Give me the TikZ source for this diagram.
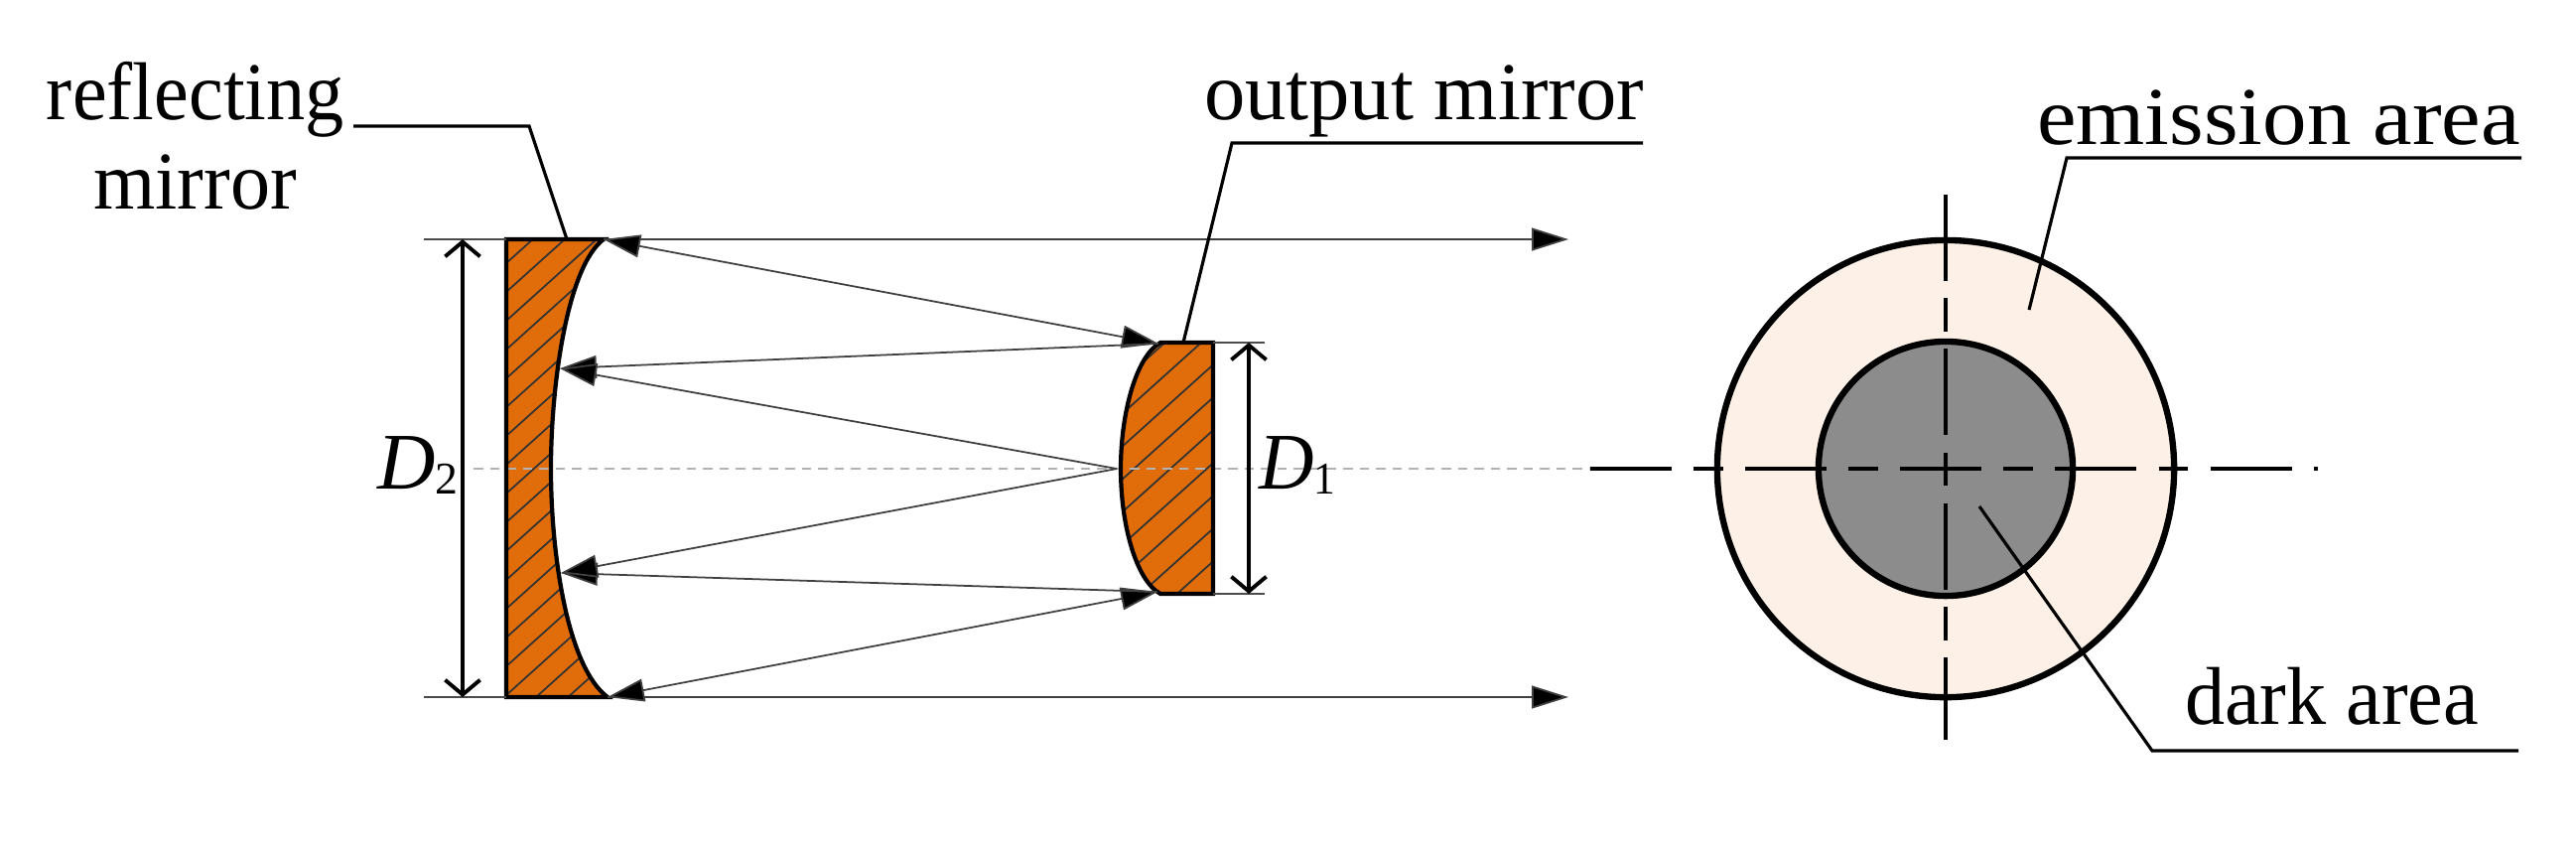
\documentclass[tikz,border=0pt]{standalone}
\usepackage{fontspec}
\setmainfont{Liberation Serif}
\usetikzlibrary{arrows.meta}
\definecolor{mirrorc}{HTML}{E06D0A}
\definecolor{emitc}{HTML}{FDF1E7}
\definecolor{darkc}{HTML}{8C8C8C}
\tikzset{
  x=0.01cm,y=-0.01cm,
  ray/.style={line width=0.5pt,draw=black!75},
  tip/.style={-{Triangle[length=10.5pt,width=6.5pt,fill=black]}},
  bitip/.style={{Triangle[length=10.5pt,width=6.5pt,fill=black]}-{Triangle[length=10.5pt,width=6.5pt,fill=black]}},
  dim/.style={line width=1.1pt,{Straight Barb[length=4.2pt,width=10pt]}-{Straight Barb[length=4.2pt,width=10pt]}},
  ext/.style={line width=0.45pt,draw=black!70},
  leader/.style={line width=0.9pt,black},
  outline/.style={line width=1.2pt,black},
  hatch/.style={line width=0.5pt,black!80},
  disc/.style={line width=1.8pt,black},
  centre/.style={line width=0.95pt,black,dash pattern=on 23.3pt off 6.3pt on 8.5pt off 6.3pt},
  centrev/.style={line width=0.95pt,black,dash pattern=on 24.7pt off 5pt on 9.5pt off 5pt},
  axis/.style={line width=0.8pt,black!30,dash pattern=on 2.7pt off 2pt},
  lab/.style={anchor=base west,inner sep=0pt,outer sep=0pt,font=\fontsize{23.5}{26}\selectfont},
  dlab/.style={anchor=base west,inner sep=0pt,outer sep=0pt,font=\fontsize{23}{25}\selectfont\itshape},
}
\newcommand{\subd}[1]{\raisebox{-1.5pt}{\fontsize{13}{15}\selectfont\upshape #1}}
\begin{document}
\begin{tikzpicture}
\useasboundingbox (0,0) rectangle (2595,856);
% named points
\coordinate (TR) at (608,241);
\coordinate (BR) at (612,702);
\coordinate (UB) at (564,371);
\coordinate (LB) at (565,577);
\coordinate (ST) at (1167,346);
\coordinate (SB) at (1166,596);
\coordinate (F) at (1125,472);
\coordinate (ArT) at (1580,241);
\coordinate (ArB) at (1580,702);
% big mirror
\fill[mirrorc] (510,241) -- (TR) .. controls (572,268) and (555,385) .. (555,472) .. controls (555,560) and (572,672) .. (BR) -- (510,702) -- cycle;
\begin{scope}
\clip (510,241) -- (TR) .. controls (572,268) and (555,385) .. (555,472) .. controls (555,560) and (572,672) .. (BR) -- (510,702) -- cycle;
\foreach \c in {265,294,...,900} \draw[hatch] (510,\c) -- (710,\c-180);
\end{scope}
% small mirror
\fill[mirrorc] (1222,345) -- (1169,345) .. controls (1145,358) and (1129,415) .. (1129,472) .. controls (1129,530) and (1145,585) .. (1169,598) -- (1222,598) -- cycle;
\begin{scope}
\clip (1222,345) -- (1169,345) .. controls (1145,358) and (1129,415) .. (1129,472) .. controls (1129,530) and (1145,585) .. (1169,598) -- (1222,598) -- cycle;
\foreach \c in {385,418,...,760} \draw[hatch] (1129,\c) -- (1229,\c-90);
\end{scope}
% axis
\draw[axis] (477,472) -- (1605,472);
% outlines
\draw[outline] (510,241) -- (TR) .. controls (572,268) and (555,385) .. (555,472) .. controls (555,560) and (572,672) .. (BR) -- (510,702) -- cycle;
\draw[outline] (1222,345) -- (1169,345) .. controls (1145,358) and (1129,415) .. (1129,472) .. controls (1129,530) and (1145,585) .. (1169,598) -- (1222,598) -- cycle;
% rays
\draw[ray,tip] (TR) -- (ArT);
\draw[ray,tip] (BR) -- (ArB);
\draw[ray,bitip] (TR) -- (ST);
\draw[ray,bitip] (BR) -- (SB);
\draw[ray,tip] (ST) -- (UB);
\draw[ray,tip] (SB) -- (LB);
\draw[ray,tip] (F) -- (UB);
\draw[ray,tip] (F) -- (LB);
% dimensions
\draw[ext] (427,241) -- (510,241);
\draw[ext] (427,702) -- (510,702);
\draw[dim] (466,241) -- (466,702);
\draw[ext] (1222,345) -- (1274,345);
\draw[ext] (1222,598) -- (1274,598);
\draw[dim] (1258,345) -- (1258,598);
% circles
\node[circle,draw,disc,fill=emitc,minimum size=4.6cm,inner sep=0pt] (outerc) at (1960,472) {};
\node[circle,draw,disc,fill=darkc,minimum size=2.56cm,inner sep=0pt] (innerc) at (1960,472) {};
\draw[centre] (1602,472) -- (2335,472);
\draw[centrev] (1960,196) -- (1960,745);
% labels
\node[lab] (l1) at (47,120) {\scalebox{0.947}[1]{reflecting}};
\node[lab] (l2) at (94,210) {\scalebox{0.97}[1]{mirror}};
\node[lab] (l3) at (1213,120) {output mirror};
\node[lab] (l4) at (2052,145) {\scalebox{1.077}[1]{emission area}};
\node[lab] (l5) at (2201,729) {\scalebox{0.97}[1]{dark area}};
\node[dlab] (d2) at (380,492) {D\subd{2}};
\node[dlab] (d1) at (1268,492) {\scalebox{0.95}[1]{D\subd{1}}};
% leaders
\draw[leader] (356,127) -- (533,127) -- (571,241);
\draw[leader] (1655,144) -- (1241,144) -- (1192,345);
\draw[leader] (2540,159) -- (2082,159) -- (2044,312);
\draw[leader] (2537,756) -- (2168,756) -- (1994,510);
\end{tikzpicture}
\end{document}
